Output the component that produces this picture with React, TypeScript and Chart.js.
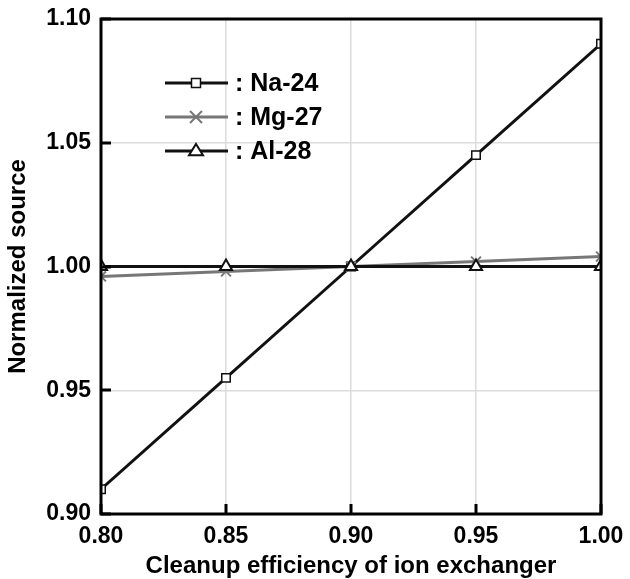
import React, { useEffect, useRef } from "react";
import { Chart, registerables } from "chart.js";

Chart.register(...registerables);

const efficiency = [0.8, 0.85, 0.9, 0.95, 1.0];
const na24 = [0.91, 0.955, 1.0, 1.045, 1.09];
const mg27 = [0.996, 0.998, 1.0, 1.002, 1.004];
const al28 = [1.0, 1.0, 1.0, 1.0, 1.0];
const seriesNames = [": Na-24", ": Mg-27", ": Al-28"];
const xTitle = "Cleanup efficiency of ion exchanger";
const yTitle = "Normalized source";

const FONT = "'Liberation Sans', Arial, sans-serif";

function drawMarker(ctx: CanvasRenderingContext2D, style: string, x: number, y: number, r: number, color: string) {
  ctx.save();
  ctx.strokeStyle = color;
  ctx.fillStyle = "#fff";
  ctx.lineWidth = 1.5;
  ctx.beginPath();
  if (style === "rect") {
    ctx.rect(x - r, y - r, 2 * r, 2 * r);
    ctx.fill();
    ctx.stroke();
  } else if (style === "triangle") {
    ctx.moveTo(x, y - r);
    ctx.lineTo(x + r, y + r * 0.6);
    ctx.lineTo(x - r, y + r * 0.6);
    ctx.closePath();
    ctx.fill();
    ctx.lineWidth = 2;
    ctx.stroke();
  } else {
    ctx.lineWidth = 2;
    ctx.moveTo(x - r, y - r);
    ctx.lineTo(x + r, y + r);
    ctx.moveTo(x + r, y - r);
    ctx.lineTo(x - r, y + r);
    ctx.stroke();
  }
  ctx.restore();
}

const framePlugin = {
  id: "frame",
  afterDraw(chart: any) {
    const { ctx, chartArea: a, scales } = chart;
    ctx.save();
    ctx.strokeStyle = "#000";
    ctx.lineWidth = 3;
    const xs = scales.x;
    const ys = scales.y;
    xs.ticks.forEach((t: any) => {
      const px = Math.round(xs.getPixelForValue(t.value));
      ctx.beginPath();
      ctx.moveTo(px, a.bottom);
      ctx.lineTo(px, a.bottom - 10);
      ctx.stroke();
    });
    ys.ticks.forEach((t: any) => {
      const py = Math.round(ys.getPixelForValue(t.value));
      ctx.beginPath();
      ctx.moveTo(a.left, py);
      ctx.lineTo(a.left + 10, py);
      ctx.stroke();
    });
    ctx.lineWidth = 3;
    ctx.strokeRect(a.left, a.top, a.right - a.left, a.bottom - a.top);

    const styles = [
      { color: "#111", style: "rect", r: 4.5 },
      { color: "#777", style: "crossRot", r: 6 },
      { color: "#111", style: "triangle", r: 7 },
    ];
    const rowsY = [83, 117, 151];
    styles.forEach((s, i) => {
      const y = rowsY[i];
      ctx.strokeStyle = s.color;
      ctx.lineWidth = 3;
      ctx.beginPath();
      ctx.moveTo(165, y);
      ctx.lineTo(228, y);
      ctx.stroke();
      drawMarker(ctx, s.style, 196, y, s.r, s.color);
      ctx.fillStyle = "#000";
      ctx.font = `bold 25px ${FONT}`;
      ctx.textBaseline = "middle";
      ctx.textAlign = "left";
      ctx.fillText(seriesNames[i], 235, y + 1);
    });
    ctx.restore();
  },
};

export default function App() {
  const ref = useRef<HTMLCanvasElement>(null);
  useEffect(() => {
    document.body.style.margin = "0";
    const mk = (d: number[]) => efficiency.map((x, i) => ({ x, y: d[i] }));
    const chart = new Chart(ref.current!, {
      type: "line",
      data: {
        datasets: [
          {
            label: seriesNames[2],
            data: mk(al28),
            borderColor: "#111",
            borderWidth: 3,
            pointStyle: "triangle",
            pointRadius: 7,
            pointBorderWidth: 2,
            pointBackgroundColor: "#fff",
            pointBorderColor: "#111",
          },
          {
            label: seriesNames[1],
            data: mk(mg27),
            borderColor: "#777",
            borderWidth: 3,
            pointStyle: "crossRot",
            pointRadius: 7,
            pointBorderWidth: 2,
            pointBorderColor: "#777",
          },
          {
            label: seriesNames[0],
            data: mk(na24),
            borderColor: "#111",
            borderWidth: 3,
            pointStyle: "rect",
            pointRadius: 6,
            pointBorderWidth: 1.5,
            pointBackgroundColor: "#fff",
            pointBorderColor: "#111",
          },
        ],
      },
      options: {
        animation: false,
        responsive: false,
        maintainAspectRatio: false,
        layout: { padding: { top: 19, right: 29, left: 0, bottom: 0 } },
        plugins: { legend: { display: false }, tooltip: { enabled: false } },
        scales: {
          x: {
            type: "linear",
            min: 0.8,
            max: 1.0,
            ticks: {
              stepSize: 0.05,
              color: "#000",
              font: { family: FONT, size: 23, weight: "bold" },
              padding: 9,
              callback: (v: any) => Number(v).toFixed(2),
            },
            grid: { color: "#dcdcdc", lineWidth: 1.5, drawTicks: false },
            border: { display: false },
            title: {
              display: true,
              text: xTitle,
              color: "#000",
              font: { family: FONT, size: 24, weight: "bold" },
              padding: { top: 0, bottom: -2 },
            },
            afterFit: (s: any) => {
              s.height = 65;
              s.paddingLeft = 0;
              s.paddingRight = 0;
            },
          },
          y: {
            type: "linear",
            min: 0.9,
            max: 1.1,
            ticks: {
              stepSize: 0.05,
              color: "#000",
              font: { family: FONT, size: 23, weight: "bold" },
              padding: 10,
              callback: (v: any) => Number(v).toFixed(2),
            },
            grid: { color: "#dcdcdc", lineWidth: 1.5, drawTicks: false },
            border: { display: false },
            title: {
              display: true,
              text: yTitle,
              color: "#000",
              font: { family: FONT, size: 24, weight: "bold" },
              padding: { top: 4, bottom: 0 },
            },
            afterFit: (s: any) => {
              s.width = 101;
              s.paddingTop = 0;
              s.paddingBottom = 0;
            },
          },
        },
      },
      plugins: [framePlugin],
    } as any);
    return () => chart.destroy();
  }, []);
  return (
    <div style={{ width: 630, height: 579 }}>
      <canvas ref={ref} width={630} height={579} style={{ display: "block" }} />
    </div>
  );
}
